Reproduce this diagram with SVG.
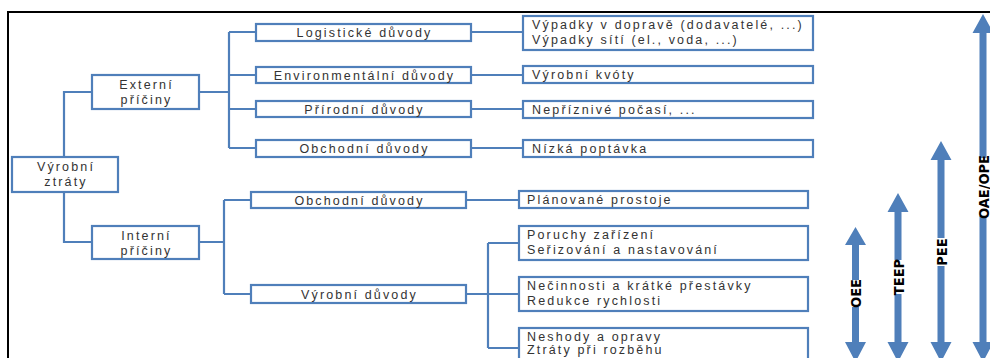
<svg xmlns="http://www.w3.org/2000/svg" width="990" height="358" viewBox="0 0 990 358">
<defs>
<style>
.box{fill:#fff;stroke:#4f7fba;stroke-width:2.2}
.con{fill:none;stroke:#4f7fba;stroke-width:2.2}
.t{font-family:"Liberation Sans","Open Sans",sans-serif;font-size:12.5px;fill:#333;letter-spacing:2.15px}
.c{text-anchor:middle}
.arr{fill:#4f7fba}
.lbl{font-family:"DejaVu Sans","Liberation Sans",sans-serif;font-weight:bold;font-size:14.5px;font-stretch:condensed;fill:#000;text-anchor:middle}
</style>
</defs>
<rect width="990" height="358" fill="#fff"/>
<path d="M8 400 V12 H990" fill="none" stroke="#000" stroke-width="2"/>
<g id="connectors">
<path class="con" d="M64 157 V92 H92 M64 192 V242 H92"/>
<path class="con" d="M199 92 H229 M229 32 V148 M229 32 H256 M229 75 H256 M229 109 H256 M229 148 H256"/>
<path class="con" d="M199 242 H224 M224 200 V294 M224 200 H251 M224 294 H251"/>
<path class="con" d="M471 32 H523 M471 75 H523 M471 109 H523 M471 148 H523"/>
<path class="con" d="M466 200 H519 M466 294 H519 M488 243 V348 M488 243 H519 M488 348 H519"/>
</g>
<g id="n_vyrobni_ztraty"><rect class="box" x="12" y="157" width="106" height="35"/><text class="t c" x="66" y="170.5">Výrobní</text><text class="t c" x="66" y="186">ztráty</text></g>
<g id="n_externi"><rect class="box" x="92" y="75" width="107" height="34"/><text class="t c" x="146.5" y="89">Externí</text><text class="t c" x="146.5" y="104">příčiny</text></g>
<g id="n_interni"><rect class="box" x="92" y="226" width="107" height="33"/><text class="t c" x="146.5" y="240">Interní</text><text class="t c" x="146.5" y="255">příčiny</text></g>
<g id="n_logisticke"><rect class="box" x="256" y="24" width="215" height="17"/><text class="t c" x="364.5" y="37">Logistické důvody</text></g>
<g id="n_environ"><rect class="box" x="256" y="67" width="215" height="16"/><text class="t c" x="364.5" y="79.5">Environmentální důvody</text></g>
<g id="n_prirodni"><rect class="box" x="256" y="101" width="215" height="16"/><text class="t c" x="364.5" y="113.5">Přírodní důvody</text></g>
<g id="n_obchodni_ext"><rect class="box" x="256" y="140" width="215" height="17"/><text class="t c" x="364.5" y="153">Obchodní důvody</text></g>
<g id="n_obchodni_int"><rect class="box" x="251" y="192" width="215" height="16"/><text class="t c" x="359.5" y="204.5">Obchodní důvody</text></g>
<g id="n_vyrobni_duvody"><rect class="box" x="251" y="285" width="215" height="18"/><text class="t c" x="359.5" y="298.5">Výrobní důvody</text></g>
<g id="n_vypadky"><rect class="box" x="523" y="16" width="290" height="34"/><text class="t" x="532" y="29">Výpadky v dopravě (dodavatelé, ...)</text><text class="t" x="532" y="44">Výpadky sítí (el., voda, ...)</text></g>
<g id="n_kvoty"><rect class="box" x="523" y="66" width="290" height="17"/><text class="t" x="532" y="79">Výrobní kvóty</text></g>
<g id="n_pocasi"><rect class="box" x="523" y="101" width="290" height="17"/><text class="t" x="532" y="113.5">Nepříznivé počasí, ...</text></g>
<g id="n_poptavka"><rect class="box" x="523" y="140" width="290" height="17"/><text class="t" x="532" y="152.5">Nízká poptávka</text></g>
<g id="n_prostoje"><rect class="box" x="519" y="191" width="289" height="17"/><text class="t" x="527" y="203.5">Plánované prostoje</text></g>
<g id="n_poruchy"><rect class="box" x="519" y="226" width="289" height="34"/><text class="t" x="527" y="239">Poruchy zařízení</text><text class="t" x="527" y="254">Seřizování a nastavování</text></g>
<g id="n_necinnosti"><rect class="box" x="519" y="277" width="289" height="34"/><text class="t" x="527" y="290">Nečinnosti a krátké přestávky</text><text class="t" x="527" y="305">Redukce rychlosti</text></g>
<g id="n_neshody"><rect class="box" x="519" y="328" width="289" height="36"/><text class="t" x="527" y="340.5">Neshody a opravy</text><text class="t" x="527" y="354">Ztráty při rozběhu</text></g>
<g id="arrows">
<g id="a_oee"><rect class="arr" x="852" y="240" width="7" height="110"/><path class="arr" d="M855.5 227 L866 245 H845 Z M855.5 362 L866 342 H845 Z"/>
<rect x="849.5" y="280" width="12" height="27" fill="#fff"/><text class="lbl" transform="translate(861 293.5) rotate(-90)">OEE</text></g>
<g id="a_teep"><rect class="arr" x="894.5" y="205" width="7" height="145"/><path class="arr" d="M898 193 L908.5 212 H887.5 Z M898 362 L908.5 342 H887.5 Z"/>
<rect x="892" y="260" width="12" height="34" fill="#fff"/><text class="lbl" transform="translate(903.5 277) rotate(-90)">TEEP</text></g>
<g id="a_pee"><rect class="arr" x="937.5" y="153" width="7" height="197"/><path class="arr" d="M941 141 L951.5 160 H930.5 Z M941 362 L951.5 342 H930.5 Z"/>
<rect x="935" y="238" width="12" height="28" fill="#fff"/><text class="lbl" transform="translate(946.5 252) rotate(-90)">PEE</text></g>
<g id="a_oae"><rect class="arr" x="979.5" y="26" width="7" height="324"/><path class="arr" d="M983 14 L993.5 33 H972.5 Z M983 362 L993.5 342 H972.5 Z"/>
<rect x="977" y="158" width="12" height="58" fill="#fff"/><text class="lbl" transform="translate(988.5 187) rotate(-90)">OAE/OPE</text></g>
</g>
</svg>
